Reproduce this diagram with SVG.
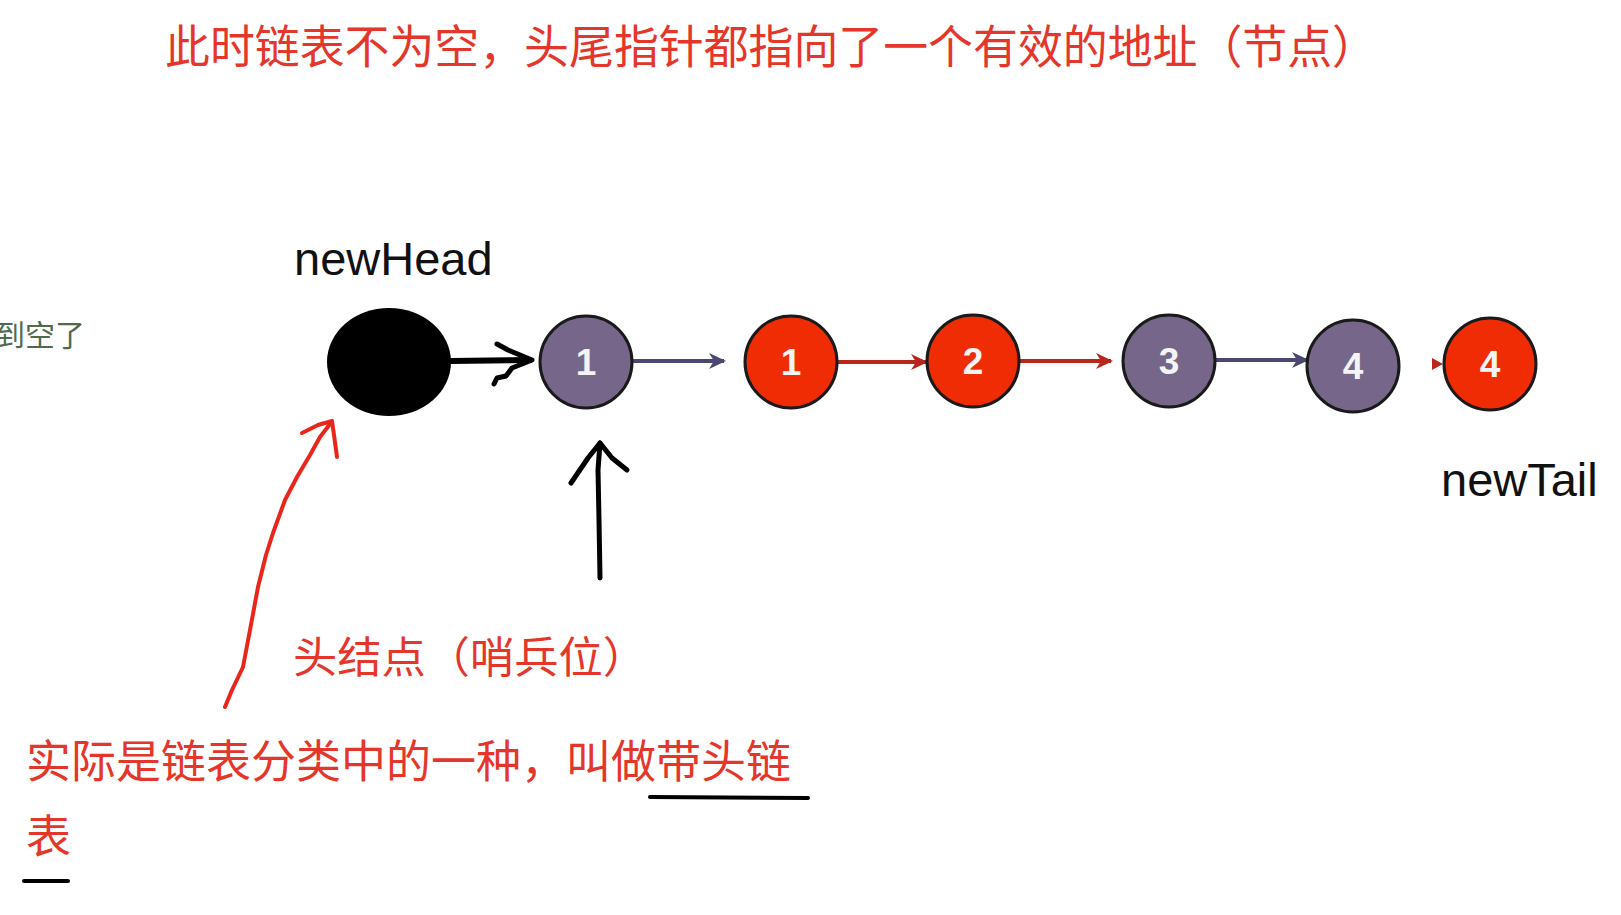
<svg xmlns="http://www.w3.org/2000/svg" width="1621" height="915" viewBox="0 0 1621 915">
<defs>
<style>
.cn{font-family:"Liberation Sans","Noto Sans CJK SC",sans-serif;}
.red{fill:#e5362b;}
.lbl{font-family:"Liberation Sans",Arial,sans-serif;fill:#111;}
.num{font-family:"Liberation Sans",Arial,sans-serif;font-weight:bold;fill:#f4f4f4;font-size:37px;text-anchor:middle;}
.pur{fill:#76678a;stroke:#1a1a1a;stroke-width:3;}
.rn{fill:#f02c05;stroke:#1a1a1a;stroke-width:3;}
.ap{stroke:#4a4770;stroke-width:4;fill:none;}
.ar{stroke:#b8261c;stroke-width:4;fill:none;}
.hand{fill:none;stroke-linecap:round;stroke-linejoin:round;}
</style>
<marker id="mp" markerWidth="17" markerHeight="16" refX="15" refY="8" orient="auto" markerUnits="userSpaceOnUse"><path d="M0,0 L17,8 L0,16 L5,8 Z" fill="#4a4770"/></marker>
<marker id="mr" markerWidth="17" markerHeight="16" refX="15" refY="8" orient="auto" markerUnits="userSpaceOnUse"><path d="M0,0 L17,8 L0,16 L5,8 Z" fill="#b8261c"/></marker>
</defs>
<rect width="1621" height="915" fill="#ffffff"/>

<g id="title"><text class="cn red" x="165" y="63" font-size="46" textLength="1212" lengthAdjust="spacingAndGlyphs">此时链表不为空，头尾指针都指向了一个有效的地址（节点）</text></g>
<g id="side-note"><text class="cn" x="-5" y="346" font-size="30" fill="#4f6a4f">到空了</text></g>

<g id="label-newHead"><text class="lbl" x="294" y="275" font-size="47">newHead</text></g>
<g id="label-newTail"><text class="lbl" x="1441" y="496" font-size="47">newTail</text></g>

<g id="connectors">
<path class="ap" d="M633,361 L724,361" marker-end="url(#mp)"/>
<path class="ar" d="M837,362 L926,362" marker-end="url(#mr)"/>
<path class="ar" d="M1020,361 L1111,361" marker-end="url(#mr)"/>
<path class="ap" d="M1216,360 L1307,360" marker-end="url(#mp)"/>
<path d="M1432,358 L1443,364 L1432,370 Z" fill="#b8261c"/>
<path class="hand" stroke="#000" stroke-width="6" d="M451,361 L530,360"/>
<path class="hand" stroke="#000" stroke-width="5" d="M497,344 L508,350 L532,360 L512,368 L506,376 L497,378 L494,384"/>
<path class="hand" stroke="#000" stroke-width="5" d="M600,578 L599,520 L598,470 L600,443"/>
<path class="hand" stroke="#000" stroke-width="5" d="M571,483 L588,458 L600,443 L612,458 L627,470"/>
<path class="hand" stroke="#e8261c" stroke-width="4" d="M225,707 L232,690 L243,667 L250,630 L258,587 L266,555 L273,533 L285,500 L297,477 L310,455 L320,437 L330,424"/>
<path class="hand" stroke="#e8261c" stroke-width="4" d="M302,433 L318,425 L332,421 L334,435 L337,457"/>
</g>

<g id="node-head"><ellipse cx="389" cy="362" rx="62" ry="54" fill="#000"/></g>
<g id="node-p1"><circle class="pur" cx="586" cy="362" r="46"/><text class="num" x="586" y="375">1</text></g>
<g id="node-r1"><circle class="rn" cx="791" cy="362" r="46"/><text class="num" x="791" y="375">1</text></g>
<g id="node-r2"><circle class="rn" cx="973" cy="361" r="46"/><text class="num" x="973" y="374">2</text></g>
<g id="node-p3"><circle class="pur" cx="1169" cy="361" r="46"/><text class="num" x="1169" y="374">3</text></g>
<g id="node-p4"><circle class="pur" cx="1353" cy="366" r="46"/><text class="num" x="1353" y="379">4</text></g>
<g id="node-r4"><circle class="rn" cx="1490" cy="364" r="46"/><text class="num" x="1490" y="377">4</text></g>

<g id="label-sentinel"><text class="cn red" x="293" y="673" font-size="43" textLength="354" lengthAdjust="spacingAndGlyphs">头结点（哨兵位）</text></g>
<g id="label-note">
<text class="cn red" x="26" y="778" font-size="45">实际是链表分类中的一种，叫做带头链</text>
<text class="cn red" x="26" y="853" font-size="45">表</text>
<path class="hand" stroke="#000" stroke-width="4" d="M650,797 L808,798"/>
<path class="hand" stroke="#000" stroke-width="4" d="M24,881 L68,881"/>
</g>
</svg>
